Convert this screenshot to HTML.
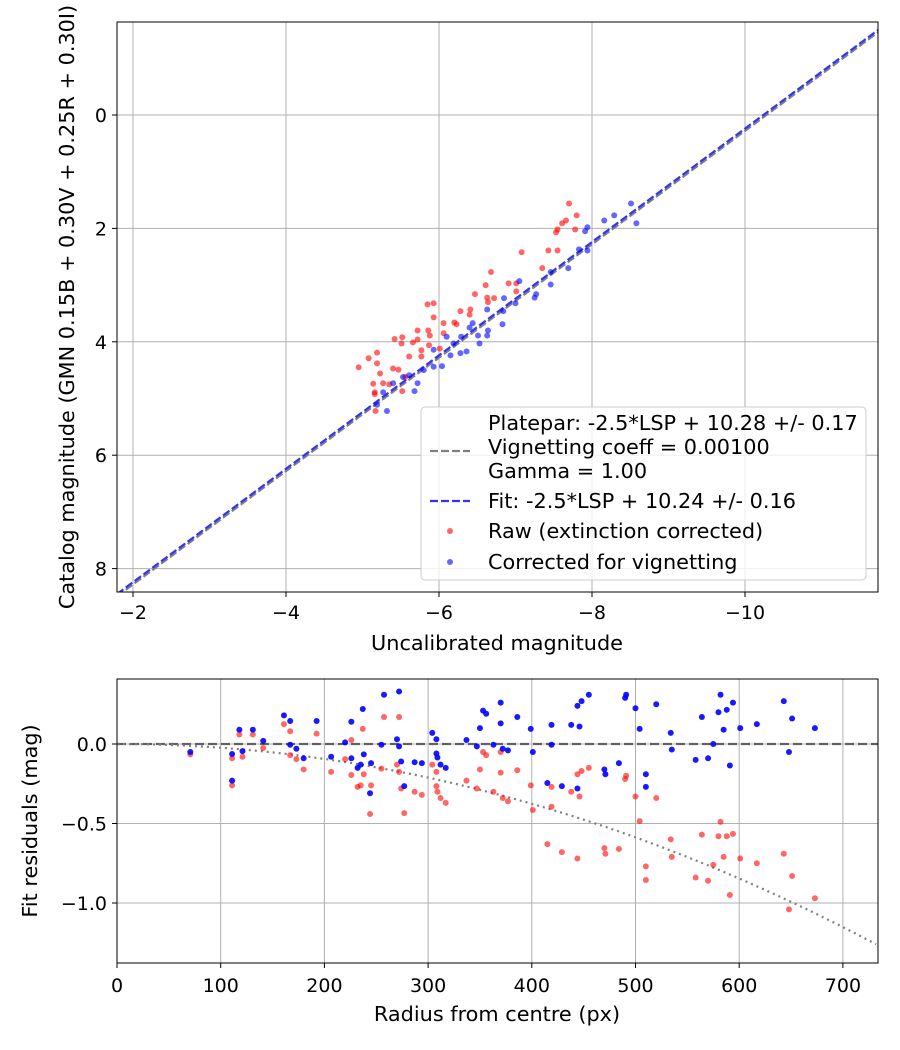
<!DOCTYPE html>
<html><head><meta charset="utf-8"><style>
body{margin:0;background:#fff;}
svg{display:block;font-family:"DejaVu Sans","Liberation Sans",sans-serif;}
</style></head><body>
<svg id="c" width="900" height="1050" xmlns="http://www.w3.org/2000/svg"></svg>
<script>
// ---- Top panel data ----
const xTicksTop = [-2, -4, -6, -8, -10];
const yTicksTop = [0, 2, 4, 6, 8];
const rawX = [-7.70,-7.80,-7.66,-7.61,-7.55,-7.53,-7.78,-7.08,-7.43,-7.55,-7.35,-6.68,-6.91,-7.01,-6.61,-7.01,-6.47,-6.63,-6.72,-6.64,-5.85,-5.93,-5.93,-6.28,-6.41,-6.40,-6.20,-6.23,-6.06,-5.72,-5.86,-5.88,-5.42,-5.52,-5.72,-5.51,-5.66,-5.87,-5.19,-5.08,-4.95,-5.19,-5.61,-5.77,-5.77,-5.40,-5.47,-5.23,-5.14,-5.27,-5.16,-5.16,-5.52,-5.17,-5.35,-5.56,-6.06,-6.01];
const rawY = [1.56,1.77,1.86,1.91,2.02,2.07,2.02,2.42,2.39,2.39,2.70,2.77,2.97,2.97,3.00,3.11,3.16,3.22,3.23,3.30,3.34,3.32,3.57,3.46,3.43,3.52,3.66,3.69,3.67,3.80,3.80,3.89,3.95,3.92,3.96,4.03,4.01,4.06,4.19,4.29,4.45,4.38,4.26,4.15,4.26,4.47,4.49,4.56,4.74,4.73,4.89,4.92,4.87,5.22,4.75,4.62,3.85,4.12];
const corrX = [-8.51,-8.58,-8.29,-8.16,-7.94,-7.91,-7.94,-7.83,-7.69,-7.46,-7.46,-7.27,-7.25,-7.05,-6.85,-6.84,-7.00,-6.83,-6.63,-6.64,-6.63,-6.51,-6.53,-6.40,-6.36,-6.28,-6.15,-6.04,-5.93,-5.80,-5.72,-5.68,-5.61,-5.53,-5.32,-5.19,-5.27,-5.40,-6.19,-6.10,-6.29,-6.44,-5.93];
const corrY = [1.56,1.91,1.77,1.86,1.98,2.05,2.39,2.37,2.70,2.77,2.99,3.16,3.22,2.93,3.23,3.46,3.32,3.69,3.43,3.80,3.89,3.89,4.03,3.75,4.17,4.20,4.24,4.43,4.44,4.50,4.73,4.87,4.59,4.62,5.22,5.11,4.89,4.73,4.03,3.91,3.91,3.67,4.14];
const plateparZP = 10.28;
const fitZP = 10.24;
// ---- Bottom panel data ----
const xTicksBot = [0,100,200,300,400,500,600,700];
const yTicksBot = [0.0,-0.5,-1.0];
const resR =    [70.7,111,111,118,121,131,141,161,167,167,173,180,192.5,206.5,220,226,226,237,238,232,235,244,245,255,257.5,272,270,272,274,277,287,294,304,308,308,309,312,317,337,347,350,353,356,363,370,370,372,377,386,399,401,415,419,419,429,438,444,444,446,448,455,470,471,484,490,491,500,504,510,510,520,534,535,558,564,570,575,580,582,585,588,591,594,601,617,643,648,651,673];
const resRaw =  [-0.065,-0.09,-0.26,0.06,-0.08,0.06,-0.025,0.125,0.08,-0.07,-0.095,-0.16,0.065,-0.175,-0.095,0.025,-0.195,0.095,-0.19,-0.27,-0.26,-0.44,-0.26,-0.155,0.17,0.17,-0.13,-0.175,-0.28,-0.435,-0.30,-0.32,-0.13,-0.175,-0.265,-0.30,-0.34,-0.37,-0.23,-0.28,-0.16,-0.05,-0.07,-0.30,-0.18,-0.05,-0.34,-0.36,-0.165,-0.26,-0.415,-0.63,-0.27,-0.395,-0.68,-0.30,-0.19,-0.72,-0.33,-0.17,-0.15,-0.655,-0.69,-0.66,-0.22,-0.20,-0.33,-0.485,-0.77,-0.855,-0.34,-0.60,-0.71,-0.84,-0.57,-0.86,-0.76,-0.58,-0.49,-0.71,-0.58,-0.95,-0.565,-0.72,-0.75,-0.69,-1.04,-0.83,-0.97];
const resCorr = [-0.05,-0.063,-0.23,0.09,-0.045,0.09,0.02,0.18,0.145,-0.005,-0.03,-0.09,0.145,-0.08,0.01,0.14,-0.09,0.22,-0.065,-0.15,-0.13,-0.31,-0.12,-0.005,0.31,0.33,0.03,-0.015,-0.11,-0.265,-0.115,-0.12,0.07,0.03,-0.06,-0.085,-0.13,-0.15,0.025,-0.015,0.10,0.21,0.19,-0.005,0.26,0.13,-0.03,-0.04,0.17,0.095,-0.05,-0.245,0.12,-0.005,-0.265,0.12,0.24,-0.28,0.11,0.27,0.31,-0.16,-0.19,-0.12,0.29,0.31,0.225,0.095,-0.19,-0.27,0.25,0.07,-0.035,-0.10,0.17,-0.09,0.00,0.20,0.31,0.09,0.215,-0.135,0.26,0.10,0.125,0.27,-0.05,0.16,0.10];
const vigCurveA = 2.35e-6;

const NS='http://www.w3.org/2000/svg';
const svg=document.getElementById('c');
const FS=20.8, TFS=19;
function mk(tag,attrs,parent){const e=document.createElementNS(NS,tag);for(const k in attrs)e.setAttribute(k,attrs[k]);(parent||svg).appendChild(e);return e;}
function txt(s,x,y,anchor,parent,extra,fs){const t=mk('text',Object.assign({x:x,y:y,'text-anchor':anchor,'font-size':fs||FS,fill:'#000'},extra||{}),parent);t.textContent=s;return t;}

// Top axes
const T={l:117,r:878,t:22,b:592};
const tx=v=>133+(-2-v)*76.5;
const ty=v=>115+v*56.7;
const gTop=mk('g',{});


const clipT=mk('clipPath',{id:'ct'});mk('rect',{x:T.l,y:T.t,width:T.r-T.l,height:T.b-T.t},clipT);
xTicksTop.forEach(v=>{const g=mk('line',{x1:tx(v),x2:tx(v),y1:T.t,y2:T.b,stroke:'#b0b0b0','stroke-width':1},gTop);

mk('line',{x1:tx(v),x2:tx(v),y1:T.b,y2:T.b+5,stroke:'#000'},gTop);
const t=txt((v<0?'\u2212':'')+Math.abs(v),tx(v),T.b+27,'middle',gTop,null,TFS);
});
yTicksTop.forEach(v=>{const g=mk('line',{x1:T.l,x2:T.r,y1:ty(v),y2:ty(v),stroke:'#b0b0b0','stroke-width':1},gTop);

mk('line',{x1:T.l-5,x2:T.l,y1:ty(v),y2:ty(v),stroke:'#000'},gTop);
const t=txt(String(v),T.l-10,ty(v)+7,'end',gTop,null,TFS);
});
const x0=-1.79,x1=-11.74;
const pl=mk('line',{x1:tx(x0),y1:ty(x0+plateparZP),x2:tx(x1),y2:ty(x1+plateparZP),stroke:'#808080','stroke-width':2.2,'stroke-dasharray':'8,3','clip-path':'url(#ct)'},gTop);

const fl=mk('line',{x1:tx(x0),y1:ty(x0+fitZP),x2:tx(x1),y2:ty(x1+fitZP),stroke:'#3333ff','stroke-width':2.2,'stroke-dasharray':'8,3','clip-path':'url(#ct)'},gTop);

rawX.forEach((v,i)=>{const c=mk('circle',{cx:tx(v),cy:ty(rawY[i]),r:3,fill:'#ff0000','fill-opacity':0.6},gTop);
});
corrX.forEach((v,i)=>{const c=mk('circle',{cx:tx(v),cy:ty(corrY[i]),r:3,fill:'#0000ff','fill-opacity':0.6},gTop);
});
mk('rect',{x:T.l,y:T.t,width:T.r-T.l,height:T.b-T.t,fill:'none',stroke:'#000','stroke-width':1},gTop);
const xl=txt('Uncalibrated magnitude',497,650,'middle',gTop);

const yl=txt('Catalog magnitude (GMN 0.15B + 0.30V + 0.25R + 0.30I)',0,0,'middle',gTop,{transform:'translate(74,307) rotate(-90)'});


// legend
const lg=mk('g',{});

mk('rect',{x:421,y:407,width:445,height:173,rx:4,fill:'#fff','fill-opacity':0.8,stroke:'#cccccc'},lg);
txt('Platepar: -2.5*LSP + 10.28 +/- 0.17',488,430,'start',lg);
mk('line',{x1:430,x2:470,y1:451,y2:451,stroke:'#808080','stroke-width':2.2,'stroke-dasharray':'8,3'},lg);
txt('Vignetting coeff = 0.00100',488,454,'start',lg);
txt('Gamma = 1.00',488,478,'start',lg);
mk('line',{x1:430,x2:470,y1:501,y2:501,stroke:'#3333ff','stroke-width':2.2,'stroke-dasharray':'8,3'},lg);
txt('Fit: -2.5*LSP + 10.24 +/- 0.16',488,508,'start',lg);
mk('circle',{cx:450,cy:531,r:3,fill:'#ff0000','fill-opacity':0.6},lg);
txt('Raw (extinction corrected)',488,538,'start',lg);
mk('circle',{cx:450,cy:562,r:3,fill:'#0000ff','fill-opacity':0.6},lg);
txt('Corrected for vignetting',488,569,'start',lg);

// Bottom axes
const B={l:117,r:878,t:679,b:963};
const bx=v=>117+v*1.037;
const by=v=>744-v*159;
const gB=mk('g',{});

const clipB=mk('clipPath',{id:'cb'});mk('rect',{x:B.l,y:B.t,width:B.r-B.l,height:B.b-B.t},clipB);
xTicksBot.forEach(v=>{const g=mk('line',{x1:bx(v),x2:bx(v),y1:B.t,y2:B.b,stroke:'#b0b0b0','stroke-width':1},gB);

mk('line',{x1:bx(v),x2:bx(v),y1:B.b,y2:B.b+5,stroke:'#000'},gB);
const t=txt(String(v),bx(v),B.b+29,'middle',gB,null,TFS);
});
yTicksBot.forEach(v=>{const g=mk('line',{x1:B.l,x2:B.r,y1:by(v),y2:by(v),stroke:'#b0b0b0','stroke-width':1},gB);

mk('line',{x1:B.l-5,x2:B.l,y1:by(v),y2:by(v),stroke:'#000'},gB);
const t=txt((v<0?'\u2212':'')+Math.abs(v).toFixed(1),B.l-10,by(v)+7,'end',gB,null,TFS);
});
const zl=mk('line',{x1:B.l,x2:B.r,y1:by(0),y2:by(0),stroke:'#000','stroke-opacity':0.55,'stroke-width':2.2,'stroke-dasharray':'9,4'},gB);

let d='';for(let r=0;r<=734;r+=4){d+=(r?'L':'M')+bx(r).toFixed(1)+','+by(-vigCurveA*r*r).toFixed(1);}
const vc=mk('path',{d:d,fill:'none',stroke:'#808080','stroke-width':2.2,'stroke-dasharray':'2,4','clip-path':'url(#cb)'},gB);

resR.forEach((v,i)=>{const c=mk('circle',{cx:bx(v),cy:by(resRaw[i]),r:3,fill:'#ff0000','fill-opacity':0.6},gB);
});
resR.forEach((v,i)=>{const c=mk('circle',{cx:bx(v),cy:by(resCorr[i]),r:3,fill:'#0000ff','fill-opacity':0.9},gB);
});
mk('rect',{x:B.l,y:B.t,width:B.r-B.l,height:B.b-B.t,fill:'none',stroke:'#000','stroke-width':1},gB);
const bxl=txt('Radius from centre (px)',497,1021,'middle',gB);

const byl=txt('Fit residuals (mag)',0,0,'middle',gB,{transform:'translate(37,821) rotate(-90)'});

</script>
</body></html>
